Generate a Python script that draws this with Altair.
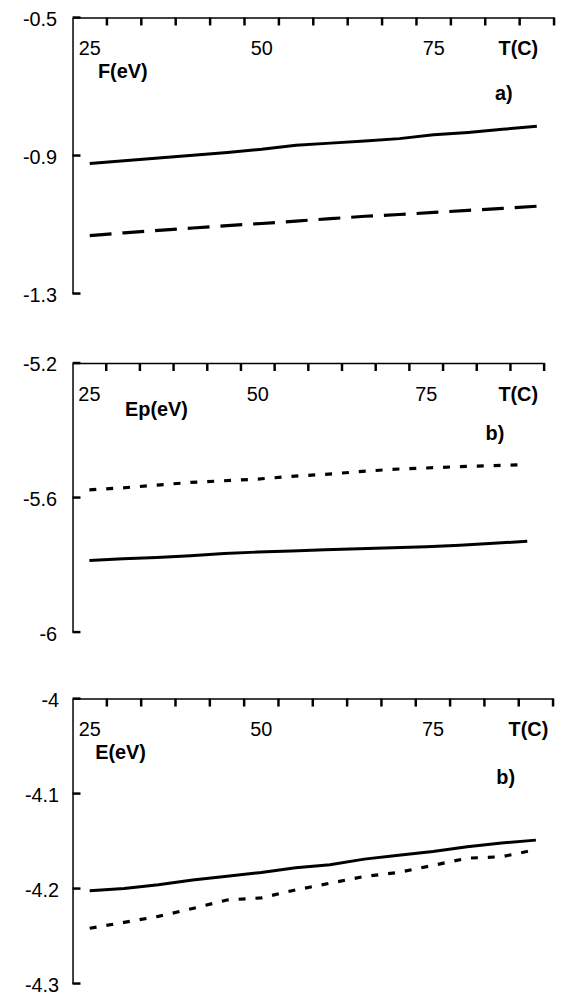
import altair as alt
import pandas as pd

# ---------------- data ----------------
T = [25, 30, 35, 40, 45, 50, 55, 60, 65, 70, 75, 80, 85, 90]

F_solid = [-0.923, -0.915, -0.907, -0.899, -0.891, -0.882, -0.870,
           -0.864, -0.858, -0.851, -0.840, -0.833, -0.824, -0.815]
F_dashed = [-1.132, -1.124, -1.117, -1.110, -1.103, -1.097, -1.090,
            -1.083, -1.076, -1.071, -1.065, -1.059, -1.053, -1.047]

Ep_solid = [-5.787, -5.782, -5.778, -5.773, -5.766, -5.762, -5.759,
            -5.755, -5.752, -5.749, -5.746, -5.742, -5.736, -5.730]
Ep_dotted = [-5.577, -5.571, -5.563, -5.555, -5.550, -5.545, -5.537,
             -5.531, -5.523, -5.516, -5.512, -5.508, -5.505, -5.502]

E_solid = [-4.2024, -4.2000, -4.1960, -4.1910, -4.1870, -4.1830, -4.1780,
           -4.1750, -4.1690, -4.1650, -4.1610, -4.1560, -4.1520, -4.1490]
E_dotted = [-4.2418, -4.2356, -4.2293, -4.2210, -4.2120, -4.2098, -4.2014,
            -4.1944, -4.1873, -4.1830, -4.1756, -4.1680, -4.1665, -4.1590]

x_tick_labels = [25, 50, 75]
x_tick_marks = [27.5, 32.5, 37.5, 42.5, 47.5, 52.5, 57.5, 62.5, 67.5,
                72.5, 77.5, 82.5, 87.5, 92.5]

F_ticks = [-0.5, -0.9, -1.3]
Ep_ticks = [-5.2, -5.6, -6.0]
E_ticks = [-4.0, -4.1, -4.2, -4.3]

FONT = "Liberation Sans"
X_DOMAIN = [22.5, 92.5]


def panel(solid, other, dash, ydom, yticks, w, h, extent, lab_pad,
          ylab, ylab_x, ylab_y, tag, tag_x, tag_y, tc_x):
    df = pd.DataFrame({"T": T, "solid": solid, "other": other})
    xs = alt.Scale(domain=X_DOMAIN, nice=False, zero=False)
    ys = alt.Scale(domain=ydom, nice=False, zero=False)
    xax = alt.Axis(orient="top", labels=False, ticks=False, grid=False,
                   domain=True, domainColor="black", domainWidth=1.5,
                   title=None, minExtent=0, maxExtent=0)
    yax = alt.Axis(orient="left", values=yticks, ticks=False, grid=False,
                   domain=True, domainColor="black", domainWidth=1.5,
                   labelFont=FONT, labelFontSize=20, labelColor="black",
                   labelPadding=lab_pad, labelOffset=2,
                   labelExpr="'' + datum.value",
                   minExtent=extent, maxExtent=extent, title=None)
    X = alt.X("T:Q", scale=xs, axis=xax)
    Y = alt.Y("val:Q", scale=ys, axis=yax)

    base = alt.Chart(df)
    solid_line = base.mark_line(
        color="black", strokeWidth=3, strokeCap="butt").encode(
        x=X, y=alt.Y("solid:Q", scale=ys, axis=yax))

    other_line = base.mark_line(
        color="black", strokeWidth=3.2, strokeCap="butt",
        strokeDash=dash).encode(
        x=X, y=alt.Y("other:Q", scale=ys, axis=yax))

    # inward-pointing tick marks
    xt = alt.Chart(pd.DataFrame({"T": x_tick_marks})).mark_rule(
        color="black", strokeWidth=2.5).encode(
        x=X, y=alt.value(0), y2=alt.value(8))

    yt = alt.Chart(pd.DataFrame({"val": yticks})).mark_rule(
        color="black", strokeWidth=2.5).encode(
        y=Y, x=alt.value(0), x2=alt.value(8))

    tl = alt.Chart(pd.DataFrame({"T": x_tick_labels,
                                 "t": [str(v) for v in x_tick_labels]})).mark_text(
        font=FONT, fontSize=20, color="black", align="center",
        baseline="middle").encode(x=X, y=alt.value(32), text="t:N")

    tc = alt.Chart(pd.DataFrame({"T": [tc_x], "t": ["T(C)"]})).mark_text(
        font=FONT, fontSize=20, fontWeight="bold", color="black",
        align="right", baseline="middle").encode(
        x=X, y=alt.value(32), text="t:N")

    yl = alt.Chart(pd.DataFrame({"T": [ylab_x], "t": [ylab]})).mark_text(
        font=FONT, fontSize=20, fontWeight="bold", color="black",
        align="left", baseline="middle").encode(
        x=X, y=alt.value(ylab_y), text="t:N")

    tg = alt.Chart(pd.DataFrame({"T": [tag_x], "t": [tag]})).mark_text(
        font=FONT, fontSize=20, fontWeight="bold", color="black",
        align="center", baseline="middle").encode(
        x=X, y=alt.value(tag_y), text="t:N")

    return alt.layer(solid_line, other_line, tl, tc, yl, tg, xt, yt).properties(
        width=w, height=h)


p1 = panel(F_solid, F_dashed, [22, 11], [-1.3, -0.5], F_ticks,
           485, 278, 60, 16, "F(eV)", 26.2, 55, "a)", 85.2, 77, 90.2)
p2 = panel(Ep_solid, Ep_dotted, [7, 10], [-6.0, -5.2], Ep_ticks,
           475, 271, 58, 16, "Ep(eV)", 30.3, 47, "b)", 85.2, 72, 91.6)
p3 = panel(E_solid, E_dotted, [7, 10], [-4.3, -4.0], E_ticks,
           484, 287, 54, 14, "E(eV)", 25.8, 55, "b)", 85.6, 80, 91.8)

top = alt.concat(p1, p2, columns=1, spacing=50, align="none")
chart = alt.concat(top, p3, columns=1, spacing=47, align="none").properties(
    padding={"top": -2, "left": 5, "right": 5, "bottom": 5},
    background="white",
).configure_view(stroke=None)

chart.save("out.html", embed_options={"renderer": "svg", "actions": False})
